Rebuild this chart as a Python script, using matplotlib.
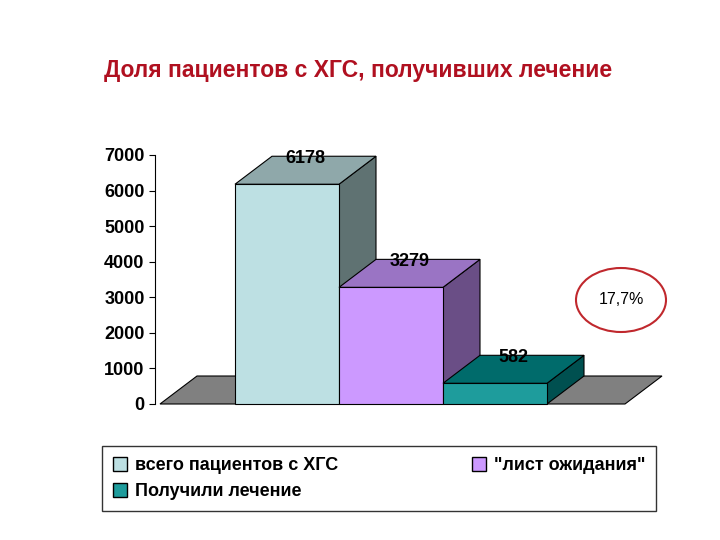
import matplotlib
matplotlib.use("Agg")
import matplotlib.pyplot as plt
from matplotlib.patches import Polygon, Patch, Ellipse

categories = ['всего пациентов с ХГС', '"лист ожидания"', 'Получили лечение']
values = [6178, 3279, 582]
yticks = [0, 1000, 2000, 3000, 4000, 5000, 6000, 7000]
fronts = ['#BDE0E3', '#CC99FF', '#1E9C9C']
tops = ['#8FA8AA', '#9A74C4', '#006B6B']
sides = ['#5F7272', '#6A4E86', '#005050']

plt.rcParams['font.family'] = ['Liberation Sans', 'DejaVu Sans']
fig = plt.figure(figsize=(7.2, 5.4), dpi=100)
ax = fig.add_axes([155/720, (540-404)/540, 510/720, (404-155)/540])
ax.set_xlim(0, 510)
ax.set_ylim(0, 7000)
dx, dy = 37, 787
ax.add_patch(Polygon([(5, 0), (470, 0), (470+dx, dy), (5+dx, dy)], closed=True,
                     facecolor='#808080', edgecolor='black', lw=0.8, clip_on=False))
w = 104
for i, v in enumerate(values):
    x0 = 80 + i*w
    ax.add_patch(Polygon([(x0+w, 0), (x0+w+dx, dy), (x0+w+dx, v+dy), (x0+w, v)],
                         facecolor=sides[i], edgecolor='black', lw=0.8, clip_on=False))
    ax.add_patch(Polygon([(x0, v), (x0+dx, v+dy), (x0+w+dx, v+dy), (x0+w, v)],
                         facecolor=tops[i], edgecolor='black', lw=0.8, clip_on=False))
    ax.add_patch(Polygon([(x0, 0), (x0+w, 0), (x0+w, v), (x0, v)],
                         facecolor=fronts[i], edgecolor='black', lw=0.8, clip_on=False))
    ax.text(x0 + w/2 + dx/2, v + dy - 60, str(v), ha='center', va='center',
            fontsize=13, fontweight='bold')
for s in ['top', 'right', 'bottom']:
    ax.spines[s].set_visible(False)
ax.set_xticks([])
ax.set_yticks(yticks)
ax.set_yticklabels([str(t) for t in yticks], fontsize=13, fontweight='bold')
ax.tick_params(axis='y', direction='out', length=4)
ax.patch.set_visible(False)

fig.text(358/720, 1-70/540, 'Доля пациентов с ХГС, получивших лечение', ha='center',
         va='center', fontsize=16.5, fontweight='bold', color='#B01020')
fig.patches.append(Ellipse((621/720, 1-300/540), 90/720, 64/540, transform=fig.transFigure,
                           facecolor='white', edgecolor='#C0282D', lw=1.5))
fig.text(621/720, 1-300/540, '17,7%', ha='center', va='center', fontsize=11.5)

order = [0, 2, 1]
handles = [Patch(facecolor=fronts[i], edgecolor='black') for i in order]
labels = [categories[i] for i in order]
leg = fig.legend(handles, labels, ncol=2, loc='upper left',
                 bbox_to_anchor=(93/720, 1-503/540, 572/720, 66/540), mode='expand',
                 prop={'size': 13, 'weight': 'bold'}, fancybox=False, edgecolor='black',
                 handlelength=0.8, handleheight=0.8, handletextpad=0.4, borderpad=0.6,
                 columnspacing=0.3, labelspacing=0.5)
leg.get_frame().set_linewidth(1.0)
fig.savefig('out.png', dpi=100)
